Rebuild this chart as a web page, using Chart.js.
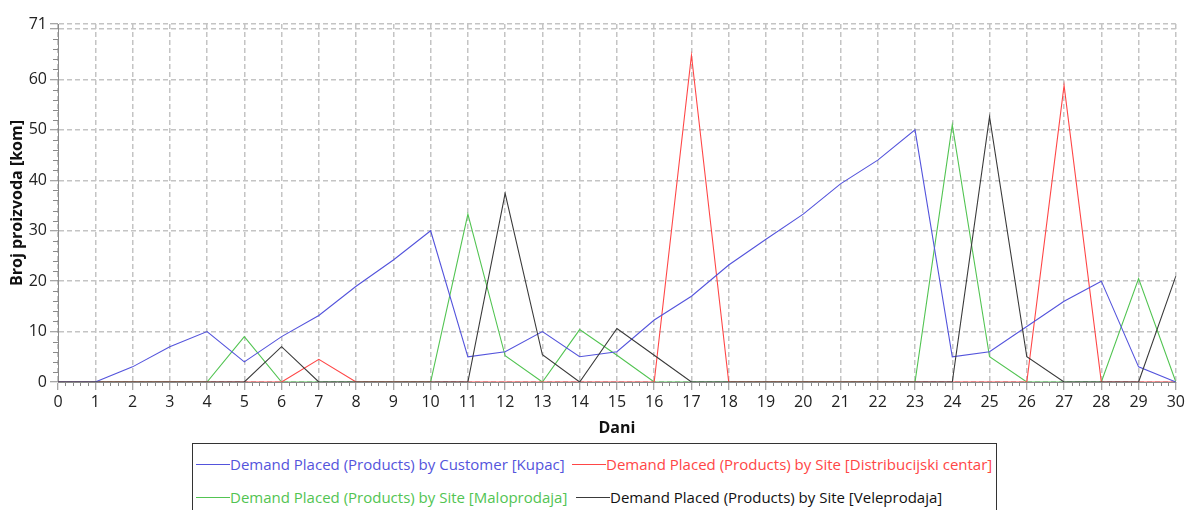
<!DOCTYPE html>
<html><head><meta charset="utf-8">
<script src="https://cdn.jsdelivr.net/npm/chart.js@4"></script>
<style>
html,body{margin:0;padding:0;background:#fff;width:1188px;height:510px;overflow:hidden;font-family:"Open Sans",sans-serif;}
#wrap{position:absolute;left:0;top:0;width:1188px;height:443px;}
#legend{position:absolute;left:192px;top:443px;width:805px;height:90px;border:1px solid #333;box-sizing:border-box;background:#fff;}
.item{position:absolute;height:20px;display:flex;align-items:center;font-size:15px;white-space:nowrap;}
.item .ln{width:34px;height:1px;}
</style></head>
<body>
<div id="wrap"><canvas id="c"></canvas></div>
<div id="legend"></div>
<script>
const days = [0,1,2,3,4,5,6,7,8,9,10,11,12,13,14,15,16,17,18,19,20,21,22,23,24,25,26,27,28,29,30];
const customerKupac   = [0,0,3,7,10,4,9,13.2,19,24.2,30,5,6,10,5,6,12.3,17,23.2,28.3,33.3,39.3,44,50,5,6,11,16,20,3,0];
const siteDistCentar  = [0,0,0,0,0,0,0,4.5,0,0,0,0,0,0,0,0,0,64.8,0,0,0,0,0,0,0,0,0,58.8,0,0,0];
const siteMaloprodaja = [0,0,0,0,0,9,0,0,0,0,0,33.3,5.2,0,10.4,5.3,0,0,0,0,0,0,0,0,51,5,0,0,0,20.5,0];
const siteVeleprodaja = [0,0,0,0,0,0,7,0,0,0,0,0,37.4,5.4,0,10.6,5.3,0,0,0,0,0,0,0,0,52.6,5,0,0,0,21];
const seriesNames = [
  'Demand Placed (Products) by Customer [Kupac]',
  'Demand Placed (Products) by Site [Distribucijski centar]',
  'Demand Placed (Products) by Site [Maloprodaja]',
  'Demand Placed (Products) by Site [Veleprodaja]'
];
const yTickValues = [0,10,20,30,40,50,60,70,71];
const yTickLabels = ['0','10','20','30','40','50','60','','71'];
const xTitle = 'Dani';
const yTitle = 'Broj proizvoda [kom]';

const colors = ['#5454dc','#ff4646','#52c452','#3a3a3a'];
const allSeries = [customerKupac, siteDistCentar, siteMaloprodaja, siteVeleprodaja];
const orders = [1,2,3,0];

const minorTicks = {
  id:'minorTicks',
  afterDraw(chart){
    const ctx = chart.ctx, xs = chart.scales.x, ys = chart.scales.y, ca = chart.chartArea;
    ctx.save();
    ctx.strokeStyle = '#8a8a8a'; ctx.lineWidth = 1;
    ctx.beginPath();
    for (let i = 0; i <= 150; i++) {
      if (i % 5 === 0) continue;
      const px = Math.round(xs.getPixelForValue(i/5)) + 0.5;
      ctx.moveTo(px, ca.bottom); ctx.lineTo(px, ca.bottom + 4);
    }
    for (let v = 2; v < 71; v += 2) {
      if (v % 10 === 0) continue;
      const py = Math.round(ys.getPixelForValue(v)) + 0.5;
      ctx.moveTo(ca.left - 5, py); ctx.lineTo(ca.left, py);
    }
    ctx.stroke();
    ctx.restore();
  }
};

new Chart(document.getElementById('c'), {
  type:'line',
  data:{
    datasets: allSeries.map((s,i)=>({
      label: seriesNames[i],
      data: days.map((d,j)=>({x:d, y:s[j]})),
      borderColor: colors[i], backgroundColor: colors[i],
      borderWidth: 1.1, pointRadius: 0, tension: 0, fill: false, order: orders[i]
    }))
  },
  options:{
    responsive:true, maintainAspectRatio:false, animation:false,
    layout:{padding:{left:0,right:11,top:24,bottom:0}},
    plugins:{legend:{display:false}, tooltip:{enabled:false}},
    scales:{
      x:{
        type:'linear', min:0, max:30,
        ticks:{stepSize:1, color:'#222', font:{family:'Open Sans', size:16}, padding:3, maxRotation:0, autoSkip:false},
        grid:{color:'#c4c4c4', lineWidth:1.5, tickColor:'#8a8a8a', tickLength:8, tickWidth:1},
        border:{display:true, color:'#8a8a8a', width:1, dash:[5,3]},
        title:{display:true, text:xTitle, color:'#111', font:{family:'Open Sans', size:16, weight:'bold'}, padding:{top:0,bottom:5}},
        afterFit(s){ s.height = 61; }
      },
      y:{
        type:'linear', min:0, max:71,
        afterBuildTicks(s){ s.ticks = yTickValues.map(v=>({value:v})); },
        ticks:{color:'#222', font:{family:'Open Sans', size:16}, padding:3,
          callback:(v)=>{ const k = yTickValues.indexOf(v); return k>=0 ? yTickLabels[k] : ''; }},
        grid:{color:'#c4c4c4', lineWidth:1.5, tickColor:'#8a8a8a', tickLength:8, tickWidth:1},
        border:{display:true, color:'#8a8a8a', width:1, dash:[5,3]},
        title:{display:true, text:yTitle, color:'#111', font:{family:'Open Sans', size:16, weight:'bold'}, padding:{top:8,bottom:0}},
        afterFit(s){ s.width = 58; }
      }
    }
  },
  plugins:[minorTicks]
});

const legendPos = [[3,10],[379,10],[3,43],[383,43]];
const lg = document.getElementById('legend');
seriesNames.forEach((n,i)=>{
  const it = document.createElement('div');
  it.className='item';
  it.style.left = legendPos[i][0]+'px'; it.style.top = legendPos[i][1]+'px';
  it.style.color = i===3 ? '#111' : colors[i];
  const ln = document.createElement('span'); ln.className='ln'; ln.style.background = colors[i];
  const tx = document.createElement('span'); tx.textContent = n;
  it.appendChild(ln); it.appendChild(tx);
  lg.appendChild(it);
});
</script>
</body></html>
